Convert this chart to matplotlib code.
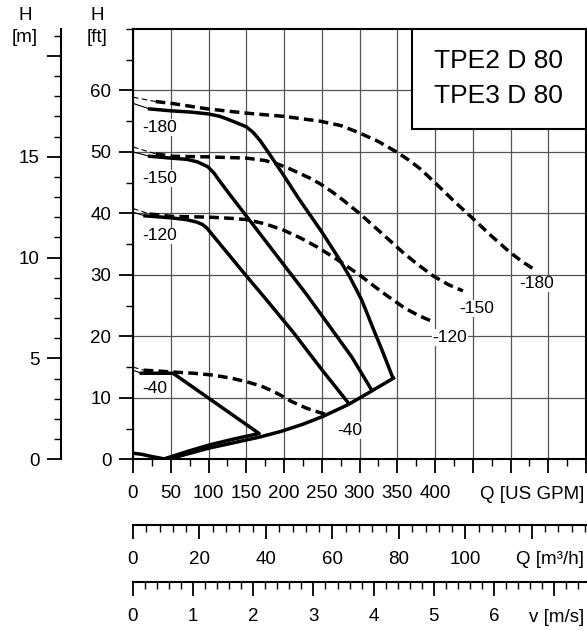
import numpy as np
import matplotlib
matplotlib.use('Agg')
from matplotlib import pyplot as plt
from matplotlib.patches import Rectangle
from matplotlib.ticker import MultipleLocator

plt.rcParams['font.family'] = ['Liberation Sans', 'DejaVu Sans']

GPM_PER_M3H = 4.40287
FT_PER_M = 3.28084
PIPE_D = 0.08  # DN80, for the velocity scale

# Q [US GPM], H [ft]; first segment of each curve is drawn thin
q_solid_180 = [0, 22, 49, 75, 99, 115, 128, 140, 150, 159, 168, 180, 199, 219, 250, 272, 287, 303, 318, 331, 344]
h_solid_180 = [57.9, 57.0, 56.7, 56.5, 56.2, 55.8, 55.2, 54.6, 54.1, 53.2, 51.9, 49.8, 46.3, 42.5, 37.0, 32.8, 29.7, 25.9, 21.3, 17.4, 13.3]
q_solid_150 = [0, 22, 50, 71, 85, 99, 107, 114, 128, 155, 195, 230, 263, 290, 316]
h_solid_150 = [50.0, 49.3, 49.0, 48.8, 48.4, 47.6, 46.6, 45.4, 43.1, 38.8, 32.4, 26.8, 21.2, 16.6, 11.3]
q_solid_120 = [0, 16, 49, 70, 84, 92, 98, 110, 151, 173, 212, 250, 285]
h_solid_120 = [40.2, 39.6, 39.3, 39.0, 38.6, 38.2, 37.6, 35.8, 29.7, 26.5, 20.7, 14.6, 9.2]
q_solid_40 = [0, 11, 53, 167, 130, 100, 70, 42]
h_solid_40 = [14.5, 14.0, 14.0, 4.2, 3.2, 2.3, 1.2, 0.1]

q_dash_180 = [0, 30, 51, 99, 151, 199, 248, 275, 298, 325, 349, 365, 380, 400, 426, 449, 475, 499, 515, 530]
h_dash_180 = [58.9, 58.2, 57.9, 57.0, 56.3, 55.8, 55.0, 54.3, 53.2, 51.7, 50.0, 48.7, 47.3, 45.0, 41.9, 39.3, 36.3, 33.7, 32.2, 31.0]
q_dash_150 = [0, 30, 51, 99, 150, 175, 190, 205, 221, 235, 248, 265, 281, 300, 320, 340, 358, 376, 398, 418, 437]
h_dash_150 = [50.8, 49.7, 49.3, 49.2, 49.0, 48.6, 48.1, 47.4, 46.5, 45.7, 44.8, 43.4, 41.9, 40.0, 37.8, 35.6, 33.6, 31.8, 29.8, 28.4, 27.4]
q_dash_120 = [0, 22, 53, 100, 130, 150, 175, 199, 222, 243, 260, 274, 301, 320, 340, 360, 378, 397]
h_dash_120 = [40.8, 39.9, 39.5, 39.4, 39.2, 39.0, 38.3, 37.3, 36.0, 34.6, 33.3, 32.2, 29.9, 28.1, 26.3, 24.6, 23.4, 22.4]
q_dash_40 = [0, 14, 53, 80, 106, 130, 151, 170, 185, 199, 210, 230, 245, 258]
h_dash_40 = [15.0, 14.5, 14.2, 14.0, 13.7, 13.2, 12.6, 11.9, 11.1, 10.2, 9.4, 8.3, 7.7, 7.2]

q_min = [0, 12, 25, 42, 55, 70, 100, 130, 167, 195, 225, 252, 285, 316, 345]
h_min = [1.0, 0.8, 0.45, 0.05, 0.3, 0.8, 1.8, 2.6, 3.6, 4.5, 5.7, 7.0, 8.9, 11.1, 13.2]

curve_labels = ['-180', '-150', '-120', '-40', '-180', '-150', '-120', '-40']
label_q = [12, 12, 12, 12, 512, 432, 397, 270]
label_h = [53.2, 45.0, 35.6, 10.8, 27.8, 23.8, 19.1, 4.0]

title_lines = ['TPE2 D 80', 'TPE3 D 80']

W, H = 587, 631
fig = plt.figure(figsize=(W / 100, H / 100), dpi=100)

x0, x1, y0, y1 = 133, 586, 459.3, 29
left, width = x0 / W, (x1 - x0) / W
bottom, height = (H - y0) / H, (y0 - y1) / H

ax = fig.add_axes([left, bottom, width, height])
ax.set_xlim(0, 600)
ax.set_ylim(0, 70)
for s in ax.spines.values():
    s.set_linewidth(1.5)
ax.set_xticks(np.arange(0, 601, 50))
ax.set_xticklabels([str(v) if v <= 400 else '' for v in range(0, 601, 50)])
ax.xaxis.set_minor_locator(MultipleLocator(25))
ax.set_yticks(np.arange(0, 61, 10))
ax.yaxis.set_minor_locator(MultipleLocator(5))
ax.tick_params(which='major', length=10, width=1.3, labelsize=13.5)
ax.tick_params(which='minor', length=5, width=1.0)
ax.tick_params(axis='x', pad=8.5)
ax.tick_params(axis='y', pad=5.5)
ax.grid(which='major', color='#555555', linewidth=0.9)


def draw_curve(q, h, dashed):
    thin_ls = (0, (5, 3)) if dashed else '-'
    thick_ls = (0, (2.8, 1.5)) if dashed else '-'
    ax.plot(q[:2], h[:2], color='black', lw=0.8, linestyle=thin_ls, zorder=3)
    ax.plot(q[1:], h[1:], color='black', lw=2.5, linestyle=thick_ls, zorder=3)


draw_curve(q_solid_180, h_solid_180, False)
draw_curve(q_solid_150, h_solid_150, False)
draw_curve(q_solid_120, h_solid_120, False)
draw_curve(q_solid_40, h_solid_40, False)
draw_curve(q_dash_180, h_dash_180, True)
draw_curve(q_dash_150, h_dash_150, True)
draw_curve(q_dash_120, h_dash_120, True)
draw_curve(q_dash_40, h_dash_40, True)
ax.plot(q_min, h_min, color='black', lw=2.5, zorder=3)

for txt, q, h in zip(curve_labels, label_q, label_h):
    ax.text(q, h, txt, fontsize=12.5, ha='left', va='baseline', zorder=4,
            bbox=dict(facecolor='white', edgecolor='none', pad=0.6))

# model box in the top right corner
ax.add_patch(Rectangle((369.5, 53.8), 230.5, 16.2, facecolor='white',
                       edgecolor='black', lw=1.5, zorder=5))
ax.text(484, 63.6, title_lines[0], fontsize=19, ha='center', va='baseline', zorder=6)
ax.text(484, 57.9, title_lines[1], fontsize=19, ha='center', va='baseline', zorder=6)

# H in metres, separate scale on the far left
ax_m = fig.add_axes([61 / W, bottom, 0.0001, height])
ax_m.set_ylim(0, 70 / FT_PER_M)
ax_m.set_xticks([])
for s in ['right', 'top', 'bottom']:
    ax_m.spines[s].set_visible(False)
ax_m.spines['left'].set_linewidth(1.5)
ax_m.set_yticks([0, 5, 10, 15, 20])
ax_m.set_yticklabels(['0', '5', '10', '15', ''])
ax_m.yaxis.set_minor_locator(MultipleLocator(1))
ax_m.tick_params(which='major', length=10, width=1.3, labelsize=13.5, pad=5.5)
ax_m.tick_params(which='minor', length=5, width=1.0)
ax_m.patch.set_visible(False)

fig.text(25 / W, 1 - 15 / H, 'H', fontsize=13.5, ha='center', va='center')
fig.text(25 / W, 1 - 37 / H, '[m]', fontsize=13.5, ha='center', va='center')
fig.text(97 / W, 1 - 15 / H, 'H', fontsize=13.5, ha='center', va='center')
fig.text(97 / W, 1 - 37 / H, '[ft]', fontsize=13.5, ha='center', va='center')


def scale_axis(y_px, xmax, major, minor, label_max, pad):
    a = fig.add_axes([left, (H - y_px) / H, width, 0.0001])
    a.set_xlim(0, xmax)
    a.set_yticks([])
    for s in ['left', 'right', 'top']:
        a.spines[s].set_visible(False)
    a.spines['bottom'].set_linewidth(1.5)
    ticks = np.arange(0, xmax + 1e-9, major)
    a.set_xticks(ticks)
    a.set_xticklabels(['%g' % t if t <= label_max + 1e-9 else '' for t in ticks])
    a.xaxis.set_minor_locator(MultipleLocator(minor))
    a.tick_params(which='major', length=10, width=1.3, labelsize=13.5, pad=pad)
    a.tick_params(which='minor', length=5, width=1.0)
    a.patch.set_visible(False)
    return a


q_max_m3h = 600 / GPM_PER_M3H
v_max = q_max_m3h / 3600 / (np.pi * PIPE_D ** 2 / 4)
scale_axis(525, q_max_m3h, 20, 4, 100, 8.5)
scale_axis(581.7, v_max, 1, 0.2, 6, 9)

fig.text(584 / W, 1 - 499.3 / H, 'Q [US GPM]', fontsize=13.5, ha='right', va='baseline')
fig.text(584 / W, 1 - 564 / H, 'Q [m³/h]', fontsize=13.5, ha='right', va='baseline')
fig.text(584 / W, 1 - 621.7 / H, 'v [m/s]', fontsize=13.5, ha='right', va='baseline')

fig.savefig('out.png', dpi=100)
